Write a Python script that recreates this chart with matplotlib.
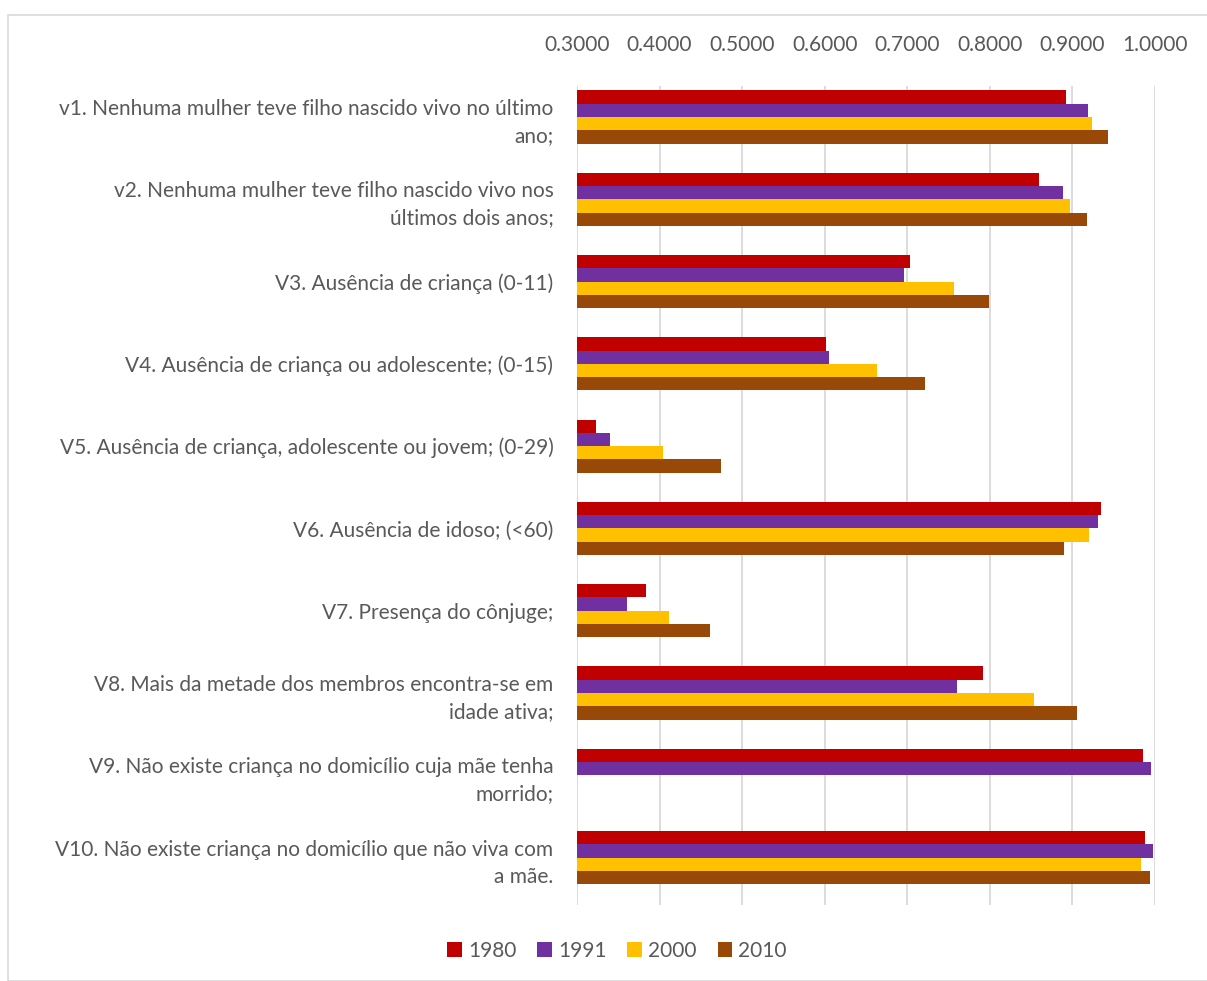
import matplotlib
matplotlib.use('Agg')

import matplotlib.pyplot as plt
import matplotlib.ticker as mticker
from matplotlib.patches import Rectangle
import numpy as np

plt.rcParams['font.family'] = ['Lato', 'DejaVu Sans']

labels = [
    "v1. Nenhuma mulher teve filho nascido vivo no último\nano;",
    "v2. Nenhuma mulher teve filho nascido vivo nos\núltimos dois anos;",
    "V3. Ausência de criança (0-11)",
    "V4. Ausência de criança ou adolescente; (0-15)",
    "V5. Ausência de criança, adolescente ou jovem; (0-29)",
    "V6. Ausência de idoso; (<60)",
    "V7. Presença do cônjuge;",
    "V8. Mais da metade dos membros encontra-se em\nidade ativa;",
    "V9. Não existe criança no domicílio cuja mãe tenha\nmorrido;",
    "V10. Não existe criança no domicílio que não viva com\na mãe.",
]

years = ["1980", "1991", "2000", "2010"]
v1980 = [0.892, 0.859, 0.703, 0.602, 0.323, 0.935, 0.383, 0.792, 0.986, 0.988]
v1991 = [0.919, 0.889, 0.696, 0.605, 0.340, 0.931, 0.361, 0.760, 0.995, 0.997]
v2000 = [0.924, 0.897, 0.757, 0.663, 0.404, 0.920, 0.412, 0.853, np.nan, 0.983]
v2010 = [0.943, 0.918, 0.799, 0.722, 0.474, 0.890, 0.461, 0.905, np.nan, 0.994]
colors = ["#C00000", "#7030A0", "#FFC000", "#984807"]

W, H = 1207, 981
fig = plt.figure(figsize=(W / 100, H / 100), dpi=100)

# chart border
fig.patches.append(Rectangle((8 / W, 0), 1.0, 1 - 15 / H, transform=fig.transFigure,
                             fill=False, edgecolor="#d9d9d9", linewidth=1.2))

ax = fig.add_axes([577 / W, 1 - 905 / H, (1155 - 577) / W, (905 - 86) / H])

y = np.arange(len(labels))
h = 0.645 / 4
series = [v1980, v1991, v2000, v2010]
left = 0.3
for i, (vals, col, yr) in enumerate(zip(series, colors, years)):
    vals = np.array(vals)
    ax.barh(y + (i - 1.5) * h, vals - left, left=left, height=h,
            color=col, label=yr, zorder=3)

ax.set_xlim(0.3, 1.0)
ax.set_ylim(9.577, -0.377)
ax.xaxis.set_major_locator(mticker.MultipleLocator(0.1))
ax.xaxis.set_major_formatter(mticker.FormatStrFormatter('%.4f'))
ax.xaxis.tick_top()
ax.tick_params(axis='x', length=0, pad=22, labelsize=15, labelcolor="#595959")
ax.set_yticks(y)
ax.set_yticklabels(labels, fontsize=15, color="#595959", ha='right', linespacing=1.45)
ax.tick_params(axis='y', length=0, pad=17)
ax.grid(axis='x', color="#d9d9d9", linewidth=1.3, zorder=0)
for s in ax.spines.values():
    s.set_visible(False)

fig.legend(loc='center', bbox_to_anchor=(617 / W, 1 - 951 / H), ncol=4,
           frameon=False, fontsize=15, labelcolor="#595959",
           handlelength=0.7, handleheight=0.7, handletextpad=0.3, columnspacing=1.0)

plt.savefig("out.png", dpi=100)
